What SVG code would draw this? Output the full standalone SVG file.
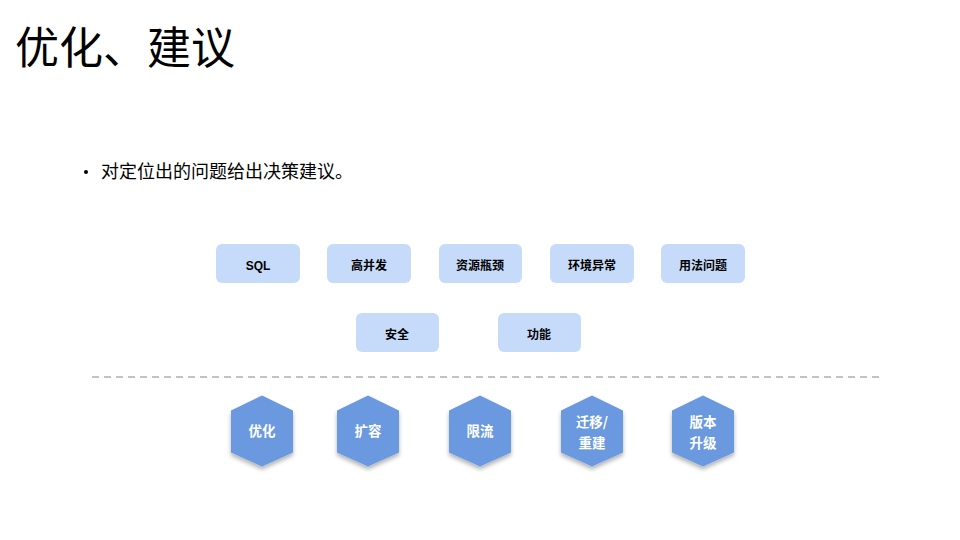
<svg xmlns="http://www.w3.org/2000/svg" width="960" height="540" viewBox="0 0 960 540">
<style>
.t{font-family:"Noto Sans CJK SC","Liberation Sans",sans-serif}
.box{fill:#c6dbfa}
.bl{font-family:"Liberation Sans","Noto Sans CJK SC",sans-serif;font-size:12px;font-weight:bold;fill:#000;text-anchor:middle}
.hex{fill:#6a99e0}
.hl{font-family:"Noto Sans CJK SC",sans-serif;font-size:13.5px;font-weight:bold;fill:#fff;text-anchor:middle}
</style>
<defs>
<filter id="sh" x="-30%" y="-30%" width="160%" height="160%">
<feDropShadow dx="0" dy="3" stdDeviation="2" flood-color="#000" flood-opacity="0.3"/>
</filter>
<polygon id="hx" points="0,-35.5 31,-20.5 31,21.5 0,35.5 -31,21.5 -31,-20.5"/>
</defs>
<rect width="960" height="540" fill="#fff"/>
<text class="t" x="15" y="64" font-size="44" fill="#000">优化、建议</text>
<circle cx="86" cy="172" r="2" fill="#000"/>
<text class="t" x="101" y="178" font-size="18" fill="#000">对定位出的问题给出决策建议。</text>

<g id="n-sql"><rect class="box" x="216" y="244" width="84" height="39" rx="6"/><text class="bl" x="258" y="270">SQL</text></g>
<g id="n-gbf"><rect class="box" x="327" y="244" width="84" height="39" rx="6"/><text class="bl" x="369" y="270">高并发</text></g>
<g id="n-zy"><rect class="box" x="439" y="244" width="83" height="39" rx="6"/><text class="bl" x="480" y="270">资源瓶颈</text></g>
<g id="n-hj"><rect class="box" x="550" y="244" width="84" height="39" rx="6"/><text class="bl" x="592" y="270">环境异常</text></g>
<g id="n-yf"><rect class="box" x="661" y="244" width="84" height="39" rx="6"/><text class="bl" x="703" y="270">用法问题</text></g>
<g id="n-aq"><rect class="box" x="356" y="313" width="83" height="39" rx="6"/><text class="bl" x="397" y="339">安全</text></g>
<g id="n-gn"><rect class="box" x="498" y="313" width="83" height="39" rx="6"/><text class="bl" x="539" y="339">功能</text></g>

<g id="connectors">
<line x1="92" y1="377" x2="884" y2="377" stroke="#c3c3c3" stroke-width="2" stroke-dasharray="7 5"/>
</g>

<g id="h-yh"><use href="#hx" class="hex" x="262" y="431" filter="url(#sh)"/><text class="hl" x="262" y="436">优化</text></g>
<g id="h-kr"><use href="#hx" class="hex" x="368" y="431" filter="url(#sh)"/><text class="hl" x="368" y="436">扩容</text></g>
<g id="h-xl"><use href="#hx" class="hex" x="480" y="431" filter="url(#sh)"/><text class="hl" x="480" y="436">限流</text></g>
<g id="h-qy"><use href="#hx" class="hex" x="592" y="431" filter="url(#sh)"/><text class="hl" x="592" y="427">迁移/</text><text class="hl" x="592" y="448">重建</text></g>
<g id="h-bb"><use href="#hx" class="hex" x="703" y="431" filter="url(#sh)"/><text class="hl" x="703" y="427">版本</text><text class="hl" x="703" y="448">升级</text></g>
</svg>
